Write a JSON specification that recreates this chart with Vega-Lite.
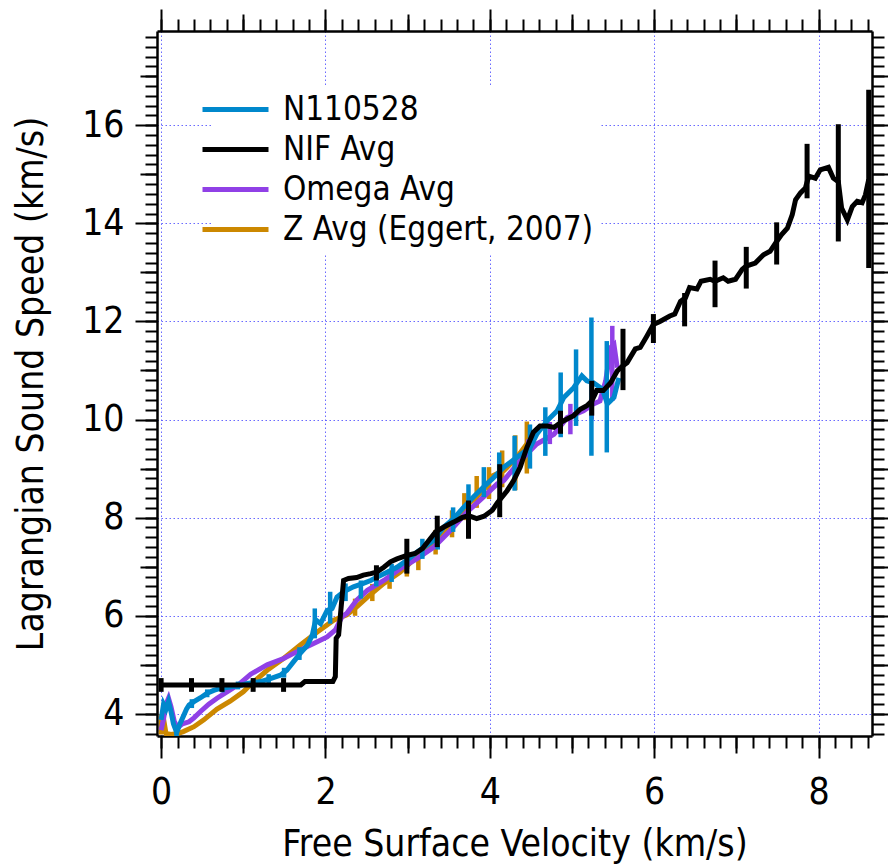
{
  "$schema": "https://vega.github.io/schema/vega-lite/v6.json",
  "width": 715,
  "height": 705,
  "autosize": {"type": "none"},
  "padding": {"left": 157, "top": 31, "right": 16, "bottom": 131},
  "background": "white",
  "config": {
    "view": {"stroke": null},
    "font": "DejaVu Sans Condensed, Liberation Sans, sans-serif",
    "axis": {
      "labelFont": "DejaVu Sans Condensed, Liberation Sans, sans-serif",
      "titleFont": "DejaVu Sans Condensed, Liberation Sans, sans-serif",
      "labelColor": "black", "titleColor": "black", "tickColor": "black", "domainColor": "black",
      "tickWidth": 2, "domainWidth": 2.5, "titleFontWeight": "normal", "labelFontSize": 37, "titleFontSize": 37
    },
    "legend": {
      "orient": "none", "legendX": 55, "legendY": 55, "fillColor": "white", "padding": 6,
      "symbolType": "M-2.2,0H2.2", "symbolSize": 900, "symbolStrokeWidth": 5,
      "labelFont": "DejaVu Sans Condensed, Liberation Sans, sans-serif", "labelFontSize": 33, "labelColor": "black",
      "labelOffset": 30, "rowPadding": 5, "labelLimit": 600
    }
  },
  "datasets": {
    "nif": [
      {"series":"NIF Avg","x":0,"y":4.59},{"series":"NIF Avg","x":1.70,"y":4.59},{"series":"NIF Avg","x":1.75,"y":4.66},{"series":"NIF Avg","x":2.09,"y":4.66},{"series":"NIF Avg","x":2.12,"y":4.76},{"series":"NIF Avg","x":2.13,"y":5.54},{"series":"NIF Avg","x":2.16,"y":5.61},{"series":"NIF Avg","x":2.22,"y":6.72},{"series":"NIF Avg","x":2.28,"y":6.76},{"series":"NIF Avg","x":2.38,"y":6.78},{"series":"NIF Avg","x":2.46,"y":6.83},{"series":"NIF Avg","x":2.55,"y":6.86},{"series":"NIF Avg","x":2.62,"y":6.89},{"series":"NIF Avg","x":2.71,"y":6.99},{"series":"NIF Avg","x":2.79,"y":7.10},{"series":"NIF Avg","x":2.87,"y":7.16},{"series":"NIF Avg","x":2.99,"y":7.23},{"series":"NIF Avg","x":3.09,"y":7.27},{"series":"NIF Avg","x":3.18,"y":7.37},{"series":"NIF Avg","x":3.26,"y":7.54},{"series":"NIF Avg","x":3.34,"y":7.71},{"series":"NIF Avg","x":3.44,"y":7.81},{"series":"NIF Avg","x":3.56,"y":7.91},{"series":"NIF Avg","x":3.66,"y":8.00},{"series":"NIF Avg","x":3.74,"y":8.04},{"series":"NIF Avg","x":3.84,"y":7.98},{"series":"NIF Avg","x":3.93,"y":8.03},{"series":"NIF Avg","x":4.03,"y":8.15},{"series":"NIF Avg","x":4.09,"y":8.30},{"series":"NIF Avg","x":4.21,"y":8.55},{"series":"NIF Avg","x":4.29,"y":8.76},{"series":"NIF Avg","x":4.37,"y":9.03},{"series":"NIF Avg","x":4.45,"y":9.43},{"series":"NIF Avg","x":4.53,"y":9.74},{"series":"NIF Avg","x":4.61,"y":9.87},{"series":"NIF Avg","x":4.70,"y":9.87},{"series":"NIF Avg","x":4.78,"y":9.84},{"series":"NIF Avg","x":4.86,"y":9.94},{"series":"NIF Avg","x":4.94,"y":10.01},{"series":"NIF Avg","x":5.02,"y":10.08},{"series":"NIF Avg","x":5.10,"y":10.21},{"series":"NIF Avg","x":5.18,"y":10.28},{"series":"NIF Avg","x":5.24,"y":10.38},{"series":"NIF Avg","x":5.30,"y":10.59},{"series":"NIF Avg","x":5.38,"y":10.59},{"series":"NIF Avg","x":5.47,"y":10.75},{"series":"NIF Avg","x":5.55,"y":10.99},{"series":"NIF Avg","x":5.62,"y":11.10},{"series":"NIF Avg","x":5.67,"y":11.16},{"series":"NIF Avg","x":5.77,"y":11.44},{"series":"NIF Avg","x":5.83,"y":11.47},{"series":"NIF Avg","x":5.91,"y":11.70},{"series":"NIF Avg","x":5.99,"y":11.94},{"series":"NIF Avg","x":6.07,"y":12.00},{"series":"NIF Avg","x":6.19,"y":12.11},{"series":"NIF Avg","x":6.25,"y":12.15},{"series":"NIF Avg","x":6.32,"y":12.41},{"series":"NIF Avg","x":6.38,"y":12.48},{"series":"NIF Avg","x":6.43,"y":12.69},{"series":"NIF Avg","x":6.52,"y":12.66},{"series":"NIF Avg","x":6.57,"y":12.82},{"series":"NIF Avg","x":6.68,"y":12.86},{"series":"NIF Avg","x":6.74,"y":12.82},{"series":"NIF Avg","x":6.84,"y":12.89},{"series":"NIF Avg","x":6.90,"y":12.82},{"series":"NIF Avg","x":6.99,"y":12.86},{"series":"NIF Avg","x":7.07,"y":13.06},{"series":"NIF Avg","x":7.12,"y":13.13},{"series":"NIF Avg","x":7.23,"y":13.19},{"series":"NIF Avg","x":7.33,"y":13.36},{"series":"NIF Avg","x":7.41,"y":13.43},{"series":"NIF Avg","x":7.49,"y":13.63},{"series":"NIF Avg","x":7.55,"y":13.77},{"series":"NIF Avg","x":7.62,"y":13.90},{"series":"NIF Avg","x":7.68,"y":14.18},{"series":"NIF Avg","x":7.72,"y":14.48},{"series":"NIF Avg","x":7.78,"y":14.62},{"series":"NIF Avg","x":7.84,"y":14.72},{"series":"NIF Avg","x":7.88,"y":14.96},{"series":"NIF Avg","x":7.96,"y":14.92},{"series":"NIF Avg","x":8.02,"y":15.09},{"series":"NIF Avg","x":8.12,"y":15.14},{"series":"NIF Avg","x":8.18,"y":14.92},{"series":"NIF Avg","x":8.24,"y":14.85},{"series":"NIF Avg","x":8.28,"y":14.31},{"series":"NIF Avg","x":8.35,"y":14.07},{"series":"NIF Avg","x":8.41,"y":14.34},{"series":"NIF Avg","x":8.47,"y":14.45},{"series":"NIF Avg","x":8.53,"y":14.42},{"series":"NIF Avg","x":8.57,"y":14.58},{"series":"NIF Avg","x":8.61,"y":14.89}
    ],
    "nifErr": [
      {"series":"NIF Avg","x":0,"lo":4.45,"hi":4.73},{"series":"NIF Avg","x":0.37,"lo":4.45,"hi":4.73},{"series":"NIF Avg","x":0.74,"lo":4.45,"hi":4.73},{"series":"NIF Avg","x":1.12,"lo":4.45,"hi":4.73},{"series":"NIF Avg","x":1.49,"lo":4.45,"hi":4.73},{"series":"NIF Avg","x":2.62,"lo":6.72,"hi":7.03},{"series":"NIF Avg","x":2.99,"lo":6.86,"hi":7.57},{"series":"NIF Avg","x":3.36,"lo":7.40,"hi":8.04},{"series":"NIF Avg","x":3.74,"lo":7.57,"hi":8.35},{"series":"NIF Avg","x":4.12,"lo":8.01,"hi":9.09},{"series":"NIF Avg","x":4.86,"lo":9.71,"hi":10.18},{"series":"NIF Avg","x":5.24,"lo":10.08,"hi":10.79},{"series":"NIF Avg","x":5.62,"lo":10.60,"hi":11.85},{"series":"NIF Avg","x":5.99,"lo":11.56,"hi":12.15},{"series":"NIF Avg","x":6.37,"lo":11.90,"hi":12.58},{"series":"NIF Avg","x":6.74,"lo":12.29,"hi":13.24},{"series":"NIF Avg","x":7.12,"lo":12.67,"hi":13.52},{"series":"NIF Avg","x":7.49,"lo":13.16,"hi":14.02},{"series":"NIF Avg","x":7.86,"lo":14.51,"hi":15.62},{"series":"NIF Avg","x":8.24,"lo":13.63,"hi":16.02},{"series":"NIF Avg","x":8.61,"lo":13.09,"hi":16.72}
    ],
    "blue": [
      {"series":"N110528","x":0,"y":3.88},{"series":"N110528","x":0.03,"y":4.2},{"series":"N110528","x":0.06,"y":4.1},{"series":"N110528","x":0.09,"y":4.25},{"series":"N110528","x":0.12,"y":4.05},{"series":"N110528","x":0.15,"y":3.8},{"series":"N110528","x":0.19,"y":3.62},{"series":"N110528","x":0.23,"y":3.8},{"series":"N110528","x":0.27,"y":3.95},{"series":"N110528","x":0.31,"y":4.1},{"series":"N110528","x":0.34,"y":4.18},{"series":"N110528","x":0.40,"y":4.25},{"series":"N110528","x":0.48,"y":4.33},{"series":"N110528","x":0.56,"y":4.42},{"series":"N110528","x":0.64,"y":4.48},{"series":"N110528","x":0.72,"y":4.52},{"series":"N110528","x":0.84,"y":4.55},{"series":"N110528","x":0.96,"y":4.58},{"series":"N110528","x":1.05,"y":4.62},{"series":"N110528","x":1.21,"y":4.66},{"series":"N110528","x":1.33,"y":4.72},{"series":"N110528","x":1.45,"y":4.79},{"series":"N110528","x":1.53,"y":4.89},{"series":"N110528","x":1.61,"y":5.06},{"series":"N110528","x":1.69,"y":5.23},{"series":"N110528","x":1.78,"y":5.40},{"series":"N110528","x":1.84,"y":5.61},{"series":"N110528","x":1.88,"y":5.92},{"series":"N110528","x":1.94,"y":5.84},{"series":"N110528","x":2.02,"y":6.11},{"series":"N110528","x":2.08,"y":6.15},{"series":"N110528","x":2.14,"y":6.38},{"series":"N110528","x":2.22,"y":6.49},{"series":"N110528","x":2.34,"y":6.59},{"series":"N110528","x":2.46,"y":6.66},{"series":"N110528","x":2.55,"y":6.72},{"series":"N110528","x":2.63,"y":6.79},{"series":"N110528","x":2.75,"y":6.89},{"series":"N110528","x":2.87,"y":6.99},{"series":"N110528","x":2.99,"y":7.13},{"series":"N110528","x":3.09,"y":7.27},{"series":"N110528","x":3.20,"y":7.40},{"series":"N110528","x":3.32,"y":7.54},{"series":"N110528","x":3.44,"y":7.81},{"series":"N110528","x":3.56,"y":7.98},{"series":"N110528","x":3.68,"y":8.21},{"series":"N110528","x":3.80,"y":8.42},{"series":"N110528","x":3.92,"y":8.62},{"series":"N110528","x":4.03,"y":8.79},{"series":"N110528","x":4.17,"y":9.03},{"series":"N110528","x":4.33,"y":9.23},{"series":"N110528","x":4.49,"y":9.43},{"series":"N110528","x":4.57,"y":9.70},{"series":"N110528","x":4.70,"y":9.98},{"series":"N110528","x":4.82,"y":10.18},{"series":"N110528","x":4.90,"y":10.45},{"series":"N110528","x":5.02,"y":10.65},{"series":"N110528","x":5.12,"y":10.89},{"series":"N110528","x":5.18,"y":10.79},{"series":"N110528","x":5.26,"y":10.75},{"series":"N110528","x":5.37,"y":10.62},{"series":"N110528","x":5.43,"y":10.32},{"series":"N110528","x":5.51,"y":10.45},{"series":"N110528","x":5.57,"y":10.85}
    ],
    "blueErr": [
      {"series":"N110528","x":0.187,"lo":3.55,"hi":3.72},{"series":"N110528","x":0.374,"lo":4.12,"hi":4.30},{"series":"N110528","x":0.561,"lo":4.34,"hi":4.50},{"series":"N110528","x":0.748,"lo":4.44,"hi":4.60},{"series":"N110528","x":0.935,"lo":4.50,"hi":4.66},{"series":"N110528","x":1.122,"lo":4.56,"hi":4.72},{"series":"N110528","x":1.309,"lo":4.63,"hi":4.81},{"series":"N110528","x":1.496,"lo":4.74,"hi":4.94},{"series":"N110528","x":1.683,"lo":5.10,"hi":5.36},{"series":"N110528","x":1.87,"lo":5.54,"hi":6.15},{"series":"N110528","x":2.057,"lo":5.84,"hi":6.49},{"series":"N110528","x":2.244,"lo":6.30,"hi":6.66},{"series":"N110528","x":2.431,"lo":6.35,"hi":6.72},{"series":"N110528","x":2.618,"lo":6.60,"hi":6.98},{"series":"N110528","x":2.805,"lo":6.69,"hi":7.06},{"series":"N110528","x":2.992,"lo":6.95,"hi":7.30},{"series":"N110528","x":3.179,"lo":7.16,"hi":7.57},{"series":"N110528","x":3.366,"lo":7.35,"hi":7.80},{"series":"N110528","x":3.553,"lo":7.71,"hi":8.21},{"series":"N110528","x":3.74,"lo":8.30,"hi":8.68},{"series":"N110528","x":3.927,"lo":8.42,"hi":9.03},{"series":"N110528","x":4.114,"lo":8.62,"hi":9.33},{"series":"N110528","x":4.301,"lo":8.55,"hi":9.67},{"series":"N110528","x":4.488,"lo":9.00,"hi":9.90},{"series":"N110528","x":4.675,"lo":9.26,"hi":10.25},{"series":"N110528","x":4.862,"lo":9.64,"hi":10.96},{"series":"N110528","x":5.049,"lo":9.87,"hi":11.43},{"series":"N110528","x":5.236,"lo":9.26,"hi":12.08},{"series":"N110528","x":5.423,"lo":9.33,"hi":11.60}
    ],
    "omega": [
      {"series":"Omega Avg","x":0,"y":3.67},{"series":"Omega Avg","x":0.03,"y":3.9},{"series":"Omega Avg","x":0.06,"y":4.2},{"series":"Omega Avg","x":0.09,"y":4.32},{"series":"Omega Avg","x":0.12,"y":4.15},{"series":"Omega Avg","x":0.16,"y":3.85},{"series":"Omega Avg","x":0.20,"y":3.72},{"series":"Omega Avg","x":0.26,"y":3.8},{"series":"Omega Avg","x":0.34,"y":3.84},{"series":"Omega Avg","x":0.40,"y":3.92},{"series":"Omega Avg","x":0.48,"y":4.05},{"series":"Omega Avg","x":0.58,"y":4.2},{"series":"Omega Avg","x":0.68,"y":4.32},{"series":"Omega Avg","x":0.84,"y":4.49},{"series":"Omega Avg","x":0.96,"y":4.62},{"series":"Omega Avg","x":1.09,"y":4.81},{"series":"Omega Avg","x":1.29,"y":5.0},{"series":"Omega Avg","x":1.49,"y":5.13},{"series":"Omega Avg","x":1.69,"y":5.30},{"series":"Omega Avg","x":1.90,"y":5.47},{"series":"Omega Avg","x":2.02,"y":5.57},{"series":"Omega Avg","x":2.12,"y":5.71},{"series":"Omega Avg","x":2.20,"y":5.98},{"series":"Omega Avg","x":2.26,"y":6.05},{"series":"Omega Avg","x":2.38,"y":6.32},{"series":"Omega Avg","x":2.51,"y":6.52},{"series":"Omega Avg","x":2.71,"y":6.72},{"series":"Omega Avg","x":2.91,"y":6.96},{"series":"Omega Avg","x":3.11,"y":7.16},{"series":"Omega Avg","x":3.32,"y":7.40},{"series":"Omega Avg","x":3.52,"y":7.74},{"series":"Omega Avg","x":3.72,"y":8.11},{"series":"Omega Avg","x":3.92,"y":8.42},{"series":"Omega Avg","x":4.09,"y":8.69},{"series":"Omega Avg","x":4.17,"y":8.76},{"series":"Omega Avg","x":4.37,"y":9.16},{"series":"Omega Avg","x":4.57,"y":9.50},{"series":"Omega Avg","x":4.78,"y":9.70},{"series":"Omega Avg","x":4.94,"y":10.04},{"series":"Omega Avg","x":5.14,"y":10.18},{"series":"Omega Avg","x":5.26,"y":10.32},{"series":"Omega Avg","x":5.34,"y":10.38},{"series":"Omega Avg","x":5.41,"y":10.79},{"series":"Omega Avg","x":5.47,"y":11.47},{"series":"Omega Avg","x":5.51,"y":11.53},{"series":"Omega Avg","x":5.55,"y":11.06}
    ],
    "omegaErr": [
      {"series":"Omega Avg","x":4.47,"lo":9.25,"hi":9.60},{"series":"Omega Avg","x":4.73,"lo":9.50,"hi":9.95},{"series":"Omega Avg","x":4.98,"lo":9.70,"hi":10.32},{"series":"Omega Avg","x":5.24,"lo":10.0,"hi":10.60},{"series":"Omega Avg","x":5.49,"lo":10.38,"hi":11.91}
    ],
    "z": [
      {"series":"Z Avg (Eggert, 2007)","x":0,"y":3.6},{"series":"Z Avg (Eggert, 2007)","x":0.03,"y":3.9},{"series":"Z Avg (Eggert, 2007)","x":0.06,"y":3.6},{"series":"Z Avg (Eggert, 2007)","x":0.12,"y":3.58},{"series":"Z Avg (Eggert, 2007)","x":0.20,"y":3.6},{"series":"Z Avg (Eggert, 2007)","x":0.27,"y":3.64},{"series":"Z Avg (Eggert, 2007)","x":0.40,"y":3.74},{"series":"Z Avg (Eggert, 2007)","x":0.52,"y":3.88},{"series":"Z Avg (Eggert, 2007)","x":0.68,"y":4.10},{"series":"Z Avg (Eggert, 2007)","x":0.84,"y":4.26},{"series":"Z Avg (Eggert, 2007)","x":1.00,"y":4.45},{"series":"Z Avg (Eggert, 2007)","x":1.09,"y":4.60},{"series":"Z Avg (Eggert, 2007)","x":1.29,"y":4.89},{"series":"Z Avg (Eggert, 2007)","x":1.49,"y":5.13},{"series":"Z Avg (Eggert, 2007)","x":1.69,"y":5.40},{"series":"Z Avg (Eggert, 2007)","x":1.90,"y":5.67},{"series":"Z Avg (Eggert, 2007)","x":2.10,"y":5.91},{"series":"Z Avg (Eggert, 2007)","x":2.26,"y":6.02},{"series":"Z Avg (Eggert, 2007)","x":2.38,"y":6.18},{"series":"Z Avg (Eggert, 2007)","x":2.51,"y":6.38},{"series":"Z Avg (Eggert, 2007)","x":2.71,"y":6.66},{"series":"Z Avg (Eggert, 2007)","x":2.91,"y":6.89},{"series":"Z Avg (Eggert, 2007)","x":3.11,"y":7.20},{"series":"Z Avg (Eggert, 2007)","x":3.32,"y":7.47},{"series":"Z Avg (Eggert, 2007)","x":3.52,"y":7.88},{"series":"Z Avg (Eggert, 2007)","x":3.72,"y":8.25},{"series":"Z Avg (Eggert, 2007)","x":3.92,"y":8.55},{"series":"Z Avg (Eggert, 2007)","x":4.03,"y":8.85},{"series":"Z Avg (Eggert, 2007)","x":4.17,"y":8.96},{"series":"Z Avg (Eggert, 2007)","x":4.33,"y":9.23},{"series":"Z Avg (Eggert, 2007)","x":4.45,"y":9.50}
    ],
    "zErr": [
      {"series":"Z Avg (Eggert, 2007)","x":0,"lo":3.58,"hi":4.0},{"series":"Z Avg (Eggert, 2007)","x":2.36,"lo":6.0,"hi":6.35},{"series":"Z Avg (Eggert, 2007)","x":2.57,"lo":6.3,"hi":6.65},{"series":"Z Avg (Eggert, 2007)","x":2.78,"lo":6.55,"hi":6.95},{"series":"Z Avg (Eggert, 2007)","x":2.99,"lo":6.8,"hi":7.2},{"series":"Z Avg (Eggert, 2007)","x":3.13,"lo":6.93,"hi":7.34},{"series":"Z Avg (Eggert, 2007)","x":3.34,"lo":7.25,"hi":7.75},{"series":"Z Avg (Eggert, 2007)","x":3.54,"lo":7.6,"hi":8.15},{"series":"Z Avg (Eggert, 2007)","x":3.69,"lo":7.95,"hi":8.5},{"series":"Z Avg (Eggert, 2007)","x":3.84,"lo":8.2,"hi":8.85},{"series":"Z Avg (Eggert, 2007)","x":3.99,"lo":8.38,"hi":9.03},{"series":"Z Avg (Eggert, 2007)","x":4.15,"lo":8.62,"hi":9.37},{"series":"Z Avg (Eggert, 2007)","x":4.31,"lo":8.56,"hi":9.68},{"series":"Z Avg (Eggert, 2007)","x":4.45,"lo":8.9,"hi":9.96}
    ]
  },
  "resolve": {"axis": {"x": "independent", "y": "independent"}},
  "layer": [
    {
      "data": {"name": "zErr"},
      "mark": {"type": "rule", "strokeWidth": 4.5, "clip": true},
      "encoding": {
        "x": {"field": "x", "type": "quantitative", "scale": {"domain": [-0.05, 8.65], "nice": false, "zero": false},
          "axis": {"orient": "bottom", "values": [0,0.2,0.4,0.6,0.8,1,1.2,1.4,1.6,1.8,2,2.2,2.4,2.6,2.8,3,3.2,3.4,3.6,3.8,4,4.2,4.4,4.6,4.8,5,5.2,5.4,5.6,5.8,6,6.2,6.4,6.6,6.8,7,7.2,7.4,7.6,7.8,8,8.2,8.4,8.6], "tickSize": 12, "labels": false, "grid": false, "domain": true, "title": null}},
        "y": {"field": "lo", "type": "quantitative", "scale": {"domain": [3.55, 17.92], "nice": false, "zero": false},
          "axis": {"orient": "left", "values": [3.6,3.8,4,4.2,4.4,4.6,4.8,5,5.2,5.4,5.6,5.8,6,6.2,6.4,6.6,6.8,7,7.2,7.4,7.6,7.8,8,8.2,8.4,8.6,8.8,9,9.2,9.4,9.6,9.8,10,10.2,10.4,10.6,10.8,11,11.2,11.4,11.6,11.8,12,12.2,12.4,12.6,12.8,13,13.2,13.4,13.6,13.8,14,14.2,14.4,14.6,14.8,15,15.2,15.4,15.6,15.8,16,16.2,16.4,16.6,16.8,17,17.2,17.4,17.6,17.8], "tickSize": 12, "labels": false, "grid": false, "domain": true, "title": null}},
        "y2": {"field": "hi"},
        "color": {"field": "series", "type": "nominal", "title": null,
          "scale": {"domain": ["N110528", "NIF Avg", "Omega Avg", "Z Avg (Eggert, 2007)"], "range": ["#0088cc", "#000000", "#9040e6", "#cc8800"]}}
      }
    },
    {
      "data": {"name": "z"},
      "mark": {"type": "line", "strokeWidth": 5, "clip": true},
      "encoding": {
        "x": {"field": "x", "type": "quantitative", "scale": {"domain": [-0.05, 8.65], "nice": false, "zero": false},
          "axis": {"orient": "bottom", "values": [1,3,5,7], "tickSize": 17, "labels": false, "grid": false, "domain": false, "title": null}},
        "y": {"field": "y", "type": "quantitative", "scale": {"domain": [3.55, 17.92], "nice": false, "zero": false},
          "axis": {"orient": "left", "values": [5,7,9,11,13,15,17], "tickSize": 17, "labels": false, "grid": false, "domain": false, "title": null}},
        "color": {"field": "series", "type": "nominal", "title": null}
      }
    },
    {
      "data": {"name": "omegaErr"},
      "mark": {"type": "rule", "strokeWidth": 4.5, "clip": true},
      "encoding": {
        "x": {"field": "x", "type": "quantitative", "scale": {"domain": [-0.05, 8.65], "nice": false, "zero": false},
          "axis": {"orient": "top", "values": [0,0.2,0.4,0.6,0.8,1,1.2,1.4,1.6,1.8,2,2.2,2.4,2.6,2.8,3,3.2,3.4,3.6,3.8,4,4.2,4.4,4.6,4.8,5,5.2,5.4,5.6,5.8,6,6.2,6.4,6.6,6.8,7,7.2,7.4,7.6,7.8,8,8.2,8.4,8.6], "tickSize": 12, "labels": false, "grid": false, "domain": true, "title": null}},
        "y": {"field": "lo", "type": "quantitative", "scale": {"domain": [3.55, 17.92], "nice": false, "zero": false},
          "axis": {"orient": "right", "values": [3.6,3.8,4,4.2,4.4,4.6,4.8,5,5.2,5.4,5.6,5.8,6,6.2,6.4,6.6,6.8,7,7.2,7.4,7.6,7.8,8,8.2,8.4,8.6,8.8,9,9.2,9.4,9.6,9.8,10,10.2,10.4,10.6,10.8,11,11.2,11.4,11.6,11.8,12,12.2,12.4,12.6,12.8,13,13.2,13.4,13.6,13.8,14,14.2,14.4,14.6,14.8,15,15.2,15.4,15.6,15.8,16,16.2,16.4,16.6,16.8,17,17.2,17.4,17.6,17.8], "tickSize": 12, "labels": false, "grid": false, "domain": true, "title": null}},
        "y2": {"field": "hi"},
        "color": {"field": "series", "type": "nominal", "title": null}
      }
    },
    {
      "data": {"name": "omega"},
      "mark": {"type": "line", "strokeWidth": 5, "clip": true},
      "encoding": {
        "x": {"field": "x", "type": "quantitative", "scale": {"domain": [-0.05, 8.65], "nice": false, "zero": false},
          "axis": {"orient": "top", "values": [1,3,5,7], "tickSize": 17, "labels": false, "grid": false, "domain": false, "title": null}},
        "y": {"field": "y", "type": "quantitative", "scale": {"domain": [3.55, 17.92], "nice": false, "zero": false},
          "axis": {"orient": "right", "values": [5,7,9,11,13,15,17], "tickSize": 17, "labels": false, "grid": false, "domain": false, "title": null}},
        "color": {"field": "series", "type": "nominal", "title": null}
      }
    },
    {
      "data": {"name": "blueErr"},
      "mark": {"type": "rule", "strokeWidth": 4.5, "clip": true},
      "encoding": {
        "x": {"field": "x", "type": "quantitative", "scale": {"domain": [-0.05, 8.65], "nice": false, "zero": false},
          "axis": {"orient": "top", "values": [0,2,4,6,8], "tickSize": 22, "labels": false, "grid": false, "domain": false, "title": null}},
        "y": {"field": "lo", "type": "quantitative", "scale": {"domain": [3.55, 17.92], "nice": false, "zero": false},
          "axis": {"orient": "right", "values": [4,6,8,10,12,14,16], "tickSize": 22, "labels": false, "grid": false, "domain": false, "title": null}},
        "y2": {"field": "hi"},
        "color": {"field": "series", "type": "nominal", "title": null}
      }
    },
    {
      "data": {"name": "blue"},
      "mark": {"type": "line", "strokeWidth": 5, "clip": true},
      "encoding": {
        "x": {"field": "x", "type": "quantitative", "scale": {"domain": [-0.05, 8.65], "nice": false, "zero": false},
          "axis": {"orient": "bottom", "values": [0,2,4,6,8], "tickSize": 22, "labels": true, "labelPadding": 16, "labelFlush": false, "labelOverlap": false,
            "grid": true, "gridColor": "#5a5aff", "gridDash": [1.5, 2.5], "gridWidth": 1, "gridOpacity": 0.9, "domain": false,
            "title": "Free Surface Velocity (km/s)", "titlePadding": 16}},
        "y": {"field": "y", "type": "quantitative", "scale": {"domain": [3.55, 17.92], "nice": false, "zero": false},
          "axis": {"orient": "left", "values": [4,6,8,10,12,14,16], "tickSize": 22, "labels": true, "labelPadding": 11, "labelFlush": false, "labelOverlap": false,
            "grid": true, "gridColor": "#5a5aff", "gridDash": [1.5, 2.5], "gridWidth": 1, "gridOpacity": 0.9, "domain": false,
            "title": "Lagrangian Sound Speed (km/s)", "titlePadding": 31}},
        "color": {"field": "series", "type": "nominal", "title": null}
      }
    },
    {
      "data": {"name": "nifErr"},
      "mark": {"type": "rule", "strokeWidth": 5, "clip": true},
      "encoding": {
        "x": {"field": "x", "type": "quantitative", "scale": {"domain": [-0.05, 8.65], "nice": false, "zero": false}, "axis": null},
        "y": {"field": "lo", "type": "quantitative", "scale": {"domain": [3.55, 17.92], "nice": false, "zero": false}, "axis": null},
        "y2": {"field": "hi"},
        "color": {"field": "series", "type": "nominal", "title": null}
      }
    },
    {
      "data": {"name": "nif"},
      "mark": {"type": "line", "strokeWidth": 5, "clip": true},
      "encoding": {
        "x": {"field": "x", "type": "quantitative", "scale": {"domain": [-0.05, 8.65], "nice": false, "zero": false}, "axis": null},
        "y": {"field": "y", "type": "quantitative", "scale": {"domain": [3.55, 17.92], "nice": false, "zero": false}, "axis": null},
        "color": {"field": "series", "type": "nominal", "title": null}
      }
    }
  ]
}
